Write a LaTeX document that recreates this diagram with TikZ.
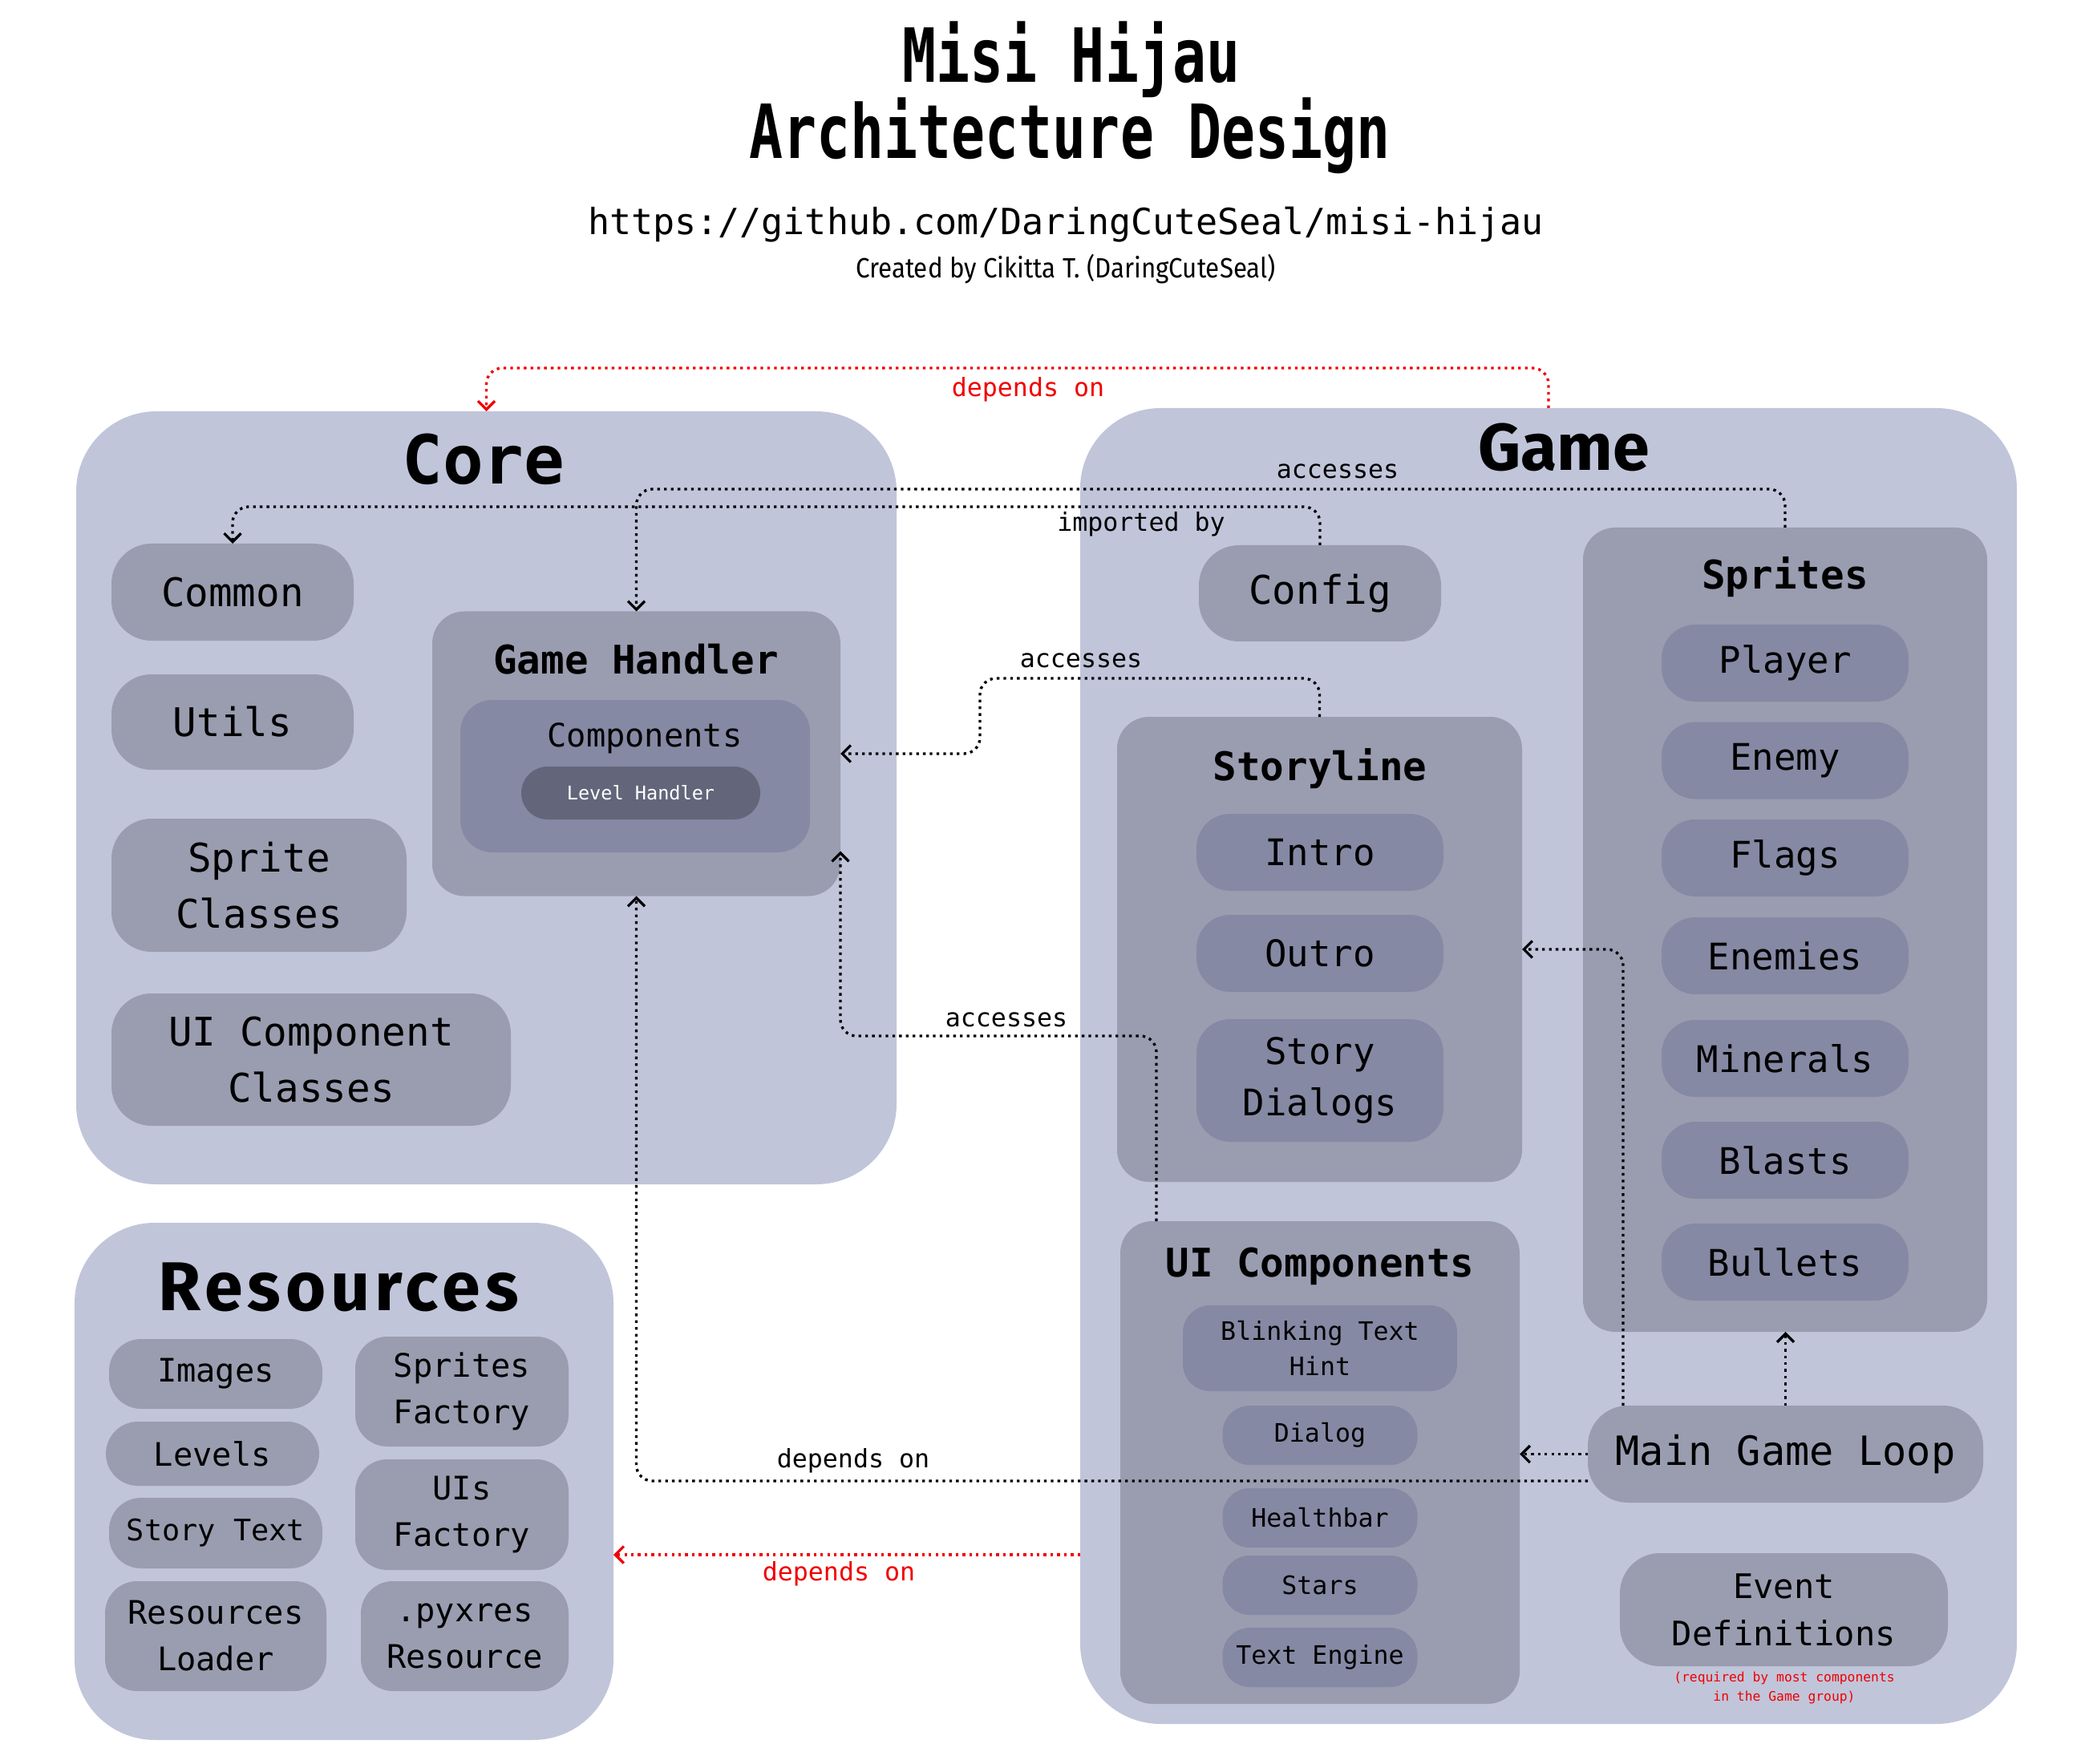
\documentclass[tikz,border=0pt]{standalone}
\usepackage{fontspec}
\setmainfont{Fira Sans}
\setmonofont{DejaVu Sans Mono}
\newfontfamily\pixelfont[FakeStretch=0.75]{DejaVu Sans Mono}
\newfontfamily\creditfont[FakeStretch=0.9]{Fira Sans}
\newfontfamily\widesans[LetterSpace=7]{Fira Sans}
\usepackage{tikz}
\usetikzlibrary{positioning,arrows.meta}
\definecolor{groupgray}{RGB}{193,197,218}
\definecolor{boxgray}{RGB}{154,157,176}
\definecolor{itemgray}{RGB}{133,137,164}
\definecolor{darkgray}{RGB}{99,102,122}
\definecolor{depred}{RGB}{240,0,0}

\begin{document}
\begin{tikzpicture}[x=1cm, y=-1cm,
  every node/.style={inner sep=0pt, outer sep=0pt},
  group/.style={fill=groupgray, rounded corners=1cm},
  subgroup/.style={fill=boxgray, rounded corners=0.4cm},
  modbox/.style={fill=boxgray, rounded corners=0.5cm, align=center,
                 font=\ttfamily\fontsize{14}{20}\selectfont},
  item/.style={fill=itemgray, rounded corners=0.42cm, align=center,
               font=\ttfamily\fontsize{13}{18.4}\selectfont},
  uiitem/.style={fill=itemgray, rounded corners=0.34cm, align=center,
                 font=\ttfamily\fontsize{9}{12.7}\selectfont},
  resitem/.style={fill=boxgray, rounded corners=0.4cm, align=center,
                  font=\ttfamily\fontsize{11.5}{16.5}\selectfont},
  monotitle/.style={anchor=base, font=\ttfamily\bfseries\fontsize{24}{28}\selectfont},
  sanstitle/.style={anchor=base, font=\rmfamily\bfseries\fontsize{23.5}{28}\selectfont},
  subtitle/.style={anchor=base, font=\ttfamily\bfseries\fontsize{14}{17}\selectfont},
  lbl/.style={anchor=base, font=\ttfamily\fontsize{9}{11}\selectfont},
  link/.style={line width=0.95pt, dash pattern=on 0.95pt off 1.45pt,
               rounded corners=0.2cm, -{Straight Barb[length=3pt,width=6pt]}},
  depends/.style={link, draw=depred}
]
\useasboundingbox (0,0) rectangle (26,22);

% header
\node[anchor=base, font=\pixelfont\bfseries\fontsize{26.5}{30}\selectfont] (title1) at (13.36,1.03) {Misi Hijau};
\node[anchor=base, font=\pixelfont\bfseries\fontsize{26.5}{30}\selectfont] (title2) at (13.34,1.98) {Architecture Design};
\node[anchor=base, font=\ttfamily\fontsize{12.8}{15}\selectfont] (url) at (13.29,2.93) {https://github.com/DaringCuteSeal/misi-hijau};
\node[anchor=base, font=\creditfont\fontsize{9.9}{12}\selectfont] (credit) at (13.29,3.47) {Created by Cikitta T. (DaringCuteSeal)};

% groups
\node[group, minimum width=10.23cm, minimum height=9.64cm] (core) at (6.065,9.95) {};
\node[group, minimum width=11.68cm, minimum height=16.41cm] (game) at (19.31,13.295) {};
\node[group, minimum width=6.72cm, minimum height=6.45cm] (res) at (4.29,18.475) {};
\node[monotitle] (coretitle) at (6.03,6.04) {Core};
\node[sanstitle] (gametitle) at (19.50,5.87) {Game};
\node[sanstitle, font=\widesans\bfseries\fontsize{24.5}{28}\selectfont] (restitle) at (4.22,16.34) {Resources};

% core
\node[modbox, minimum width=3.02cm, minimum height=1.21cm] (common) at (2.90,7.385) {Common};
\node[modbox, minimum width=3.02cm, minimum height=1.19cm] (utils) at (2.90,9.005) {Utils};
\node[modbox, minimum width=3.68cm, minimum height=1.66cm] (spritecls) at (3.23,11.04) {Sprite\\Classes};
\node[modbox, minimum width=4.98cm, minimum height=1.65cm] (uicls) at (3.88,13.215) {UI Component\\Classes};
\node[subgroup, minimum width=5.09cm, minimum height=3.55cm] (gh) at (7.935,9.40) {};
\node[subtitle] (ghtitle) at (7.93,8.40) {Game Handler};
\node[fill=itemgray, rounded corners=0.4cm, minimum width=4.36cm, minimum height=1.90cm] (comps) at (7.92,9.68) {};
\node[anchor=base, font=\ttfamily\fontsize{11.5}{14}\selectfont] (compstitle) at (8.04,9.31) {Components};
\node[fill=darkgray, rounded corners=0.33cm, minimum width=2.98cm, minimum height=0.66cm,
      text=white, font=\ttfamily\fontsize{6.7}{8}\selectfont] (lvl) at (7.99,9.89) {Level Handler};

% game
\node[modbox, minimum width=3.02cm, minimum height=1.20cm] (config) at (16.46,7.40) {Config};
\node[subgroup, minimum width=5.04cm, minimum height=10.03cm] (sprites) at (22.26,11.595) {};
\node[subtitle] (spritestitle) at (22.26,7.35) {Sprites};
\foreach \nm/\txt/\y in {player/Player/8.27, enemy/Enemy/9.485, flags/Flags/10.70,
    enemies/Enemies/11.92, minerals/Minerals/13.20, blasts/Blasts/14.47, bullets/Bullets/15.74}
  \node[item, minimum width=3.08cm, minimum height=0.96cm] (\nm) at (22.26,\y) {\txt};

\node[subgroup, minimum width=5.05cm, minimum height=5.80cm] (story) at (16.455,11.84) {};
\node[subtitle] (storytitle) at (16.46,9.73) {Storyline};
\node[item, minimum width=3.08cm, minimum height=0.96cm] (intro) at (16.46,10.63) {Intro};
\node[item, minimum width=3.08cm, minimum height=0.96cm] (outro) at (16.46,11.89) {Outro};
\node[item, minimum width=3.08cm, minimum height=1.53cm] (dialogs) at (16.46,13.475) {Story\\Dialogs};

\node[subgroup, minimum width=4.98cm, minimum height=6.02cm] (ui) at (16.46,18.24) {};
\node[subtitle] (uititle) at (16.46,15.92) {UI Components};
\node[uiitem, minimum width=3.42cm, minimum height=1.07cm] (blink) at (16.46,16.815) {Blinking Text\\Hint};
\foreach \nm/\txt/\y in {dialog/Dialog/17.90, health/Healthbar/18.93, stars/Stars/19.77, engine/Text Engine/20.67}
  \node[uiitem, minimum width=2.43cm, minimum height=0.74cm] (\nm) at (16.46,\y) {\txt};

\node[modbox, minimum width=4.93cm, minimum height=1.21cm, font=\ttfamily\fontsize{14.3}{20}\selectfont] (mgl) at (22.265,18.135) {Main Game Loop};
\node[modbox, minimum width=4.09cm, minimum height=1.41cm, font=\ttfamily\fontsize{12}{16.8}\selectfont] (events) at (22.245,20.075) {Event\\Definitions};
\node[align=center, text=depred, font=\ttfamily\fontsize{4.65}{6.8}\selectfont] (eventsnote) at (22.25,21.05)
  {(required by most components\\in the Game group)};

% resources
\node[resitem, minimum width=2.66cm, minimum height=0.87cm] (images) at (2.69,17.135) {Images};
\node[resitem, minimum width=2.66cm, minimum height=0.80cm] (levels) at (2.65,18.13) {Levels};
\node[resitem, minimum width=2.66cm, minimum height=0.88cm, font=\ttfamily\fontsize{10.5}{15}\selectfont] (storytext) at (2.69,19.12) {Story Text};
\node[resitem, minimum width=2.76cm, minimum height=1.37cm] (loader) at (2.69,20.405) {Resources\\Loader};
\node[resitem, minimum width=2.66cm, minimum height=1.37cm] (spritefac) at (5.76,17.355) {Sprites\\Factory};
\node[resitem, minimum width=2.66cm, minimum height=1.38cm] (uifac) at (5.76,18.89) {UIs\\Factory};
\node[resitem, minimum width=2.59cm, minimum height=1.37cm] (pyxres) at (5.795,20.405) {.pyxres\\Resource};

% connectors
\draw[depends] (game.north) -- ++(0,-0.50) -| (core.north);
\node[lbl, text=depred] (deplbl1) at (12.82,4.95) {depends on};

\draw[link] (sprites.north) -- ++(0,-0.48) -| (gh.north);
\node[lbl] (acclbl1) at (16.68,5.97) {accesses};

\draw[link] (config.north) -- ++(0,-0.48) -| (common.north);
\node[lbl] (implbl) at (14.23,6.63) {imported by};

\draw[link] (story.north) -- ++(0,-0.48) -| (12.22,9.40) -- (gh.east);
\node[lbl] (acclbl2) at (13.48,8.32) {accesses};

\draw[link] ([xshift=0.45cm]ui.north west) |- (10.48,12.92) -- ([yshift=0.56cm]gh.south east);
\node[lbl] (acclbl3) at (12.55,12.80) {accesses};

\draw[link] ([yshift=-0.335cm]mgl.west) -| (gh.south);
\node[lbl] (deplbl2) at (10.64,18.30) {depends on};

\draw[link] (mgl.west) -- (mgl.west -| ui.east);
\draw[link] ([xshift=0.44cm]mgl.north west) |- (story.east);
\draw[link] (mgl.north) -- (mgl.north |- sprites.south);

\coordinate (gameleft) at (13.47,19.39);
\draw[depends] (gameleft) -- (gameleft -| res.east);
\node[lbl, text=depred] (deplbl3) at (10.46,19.71) {depends on};
\end{tikzpicture}
\end{document}
